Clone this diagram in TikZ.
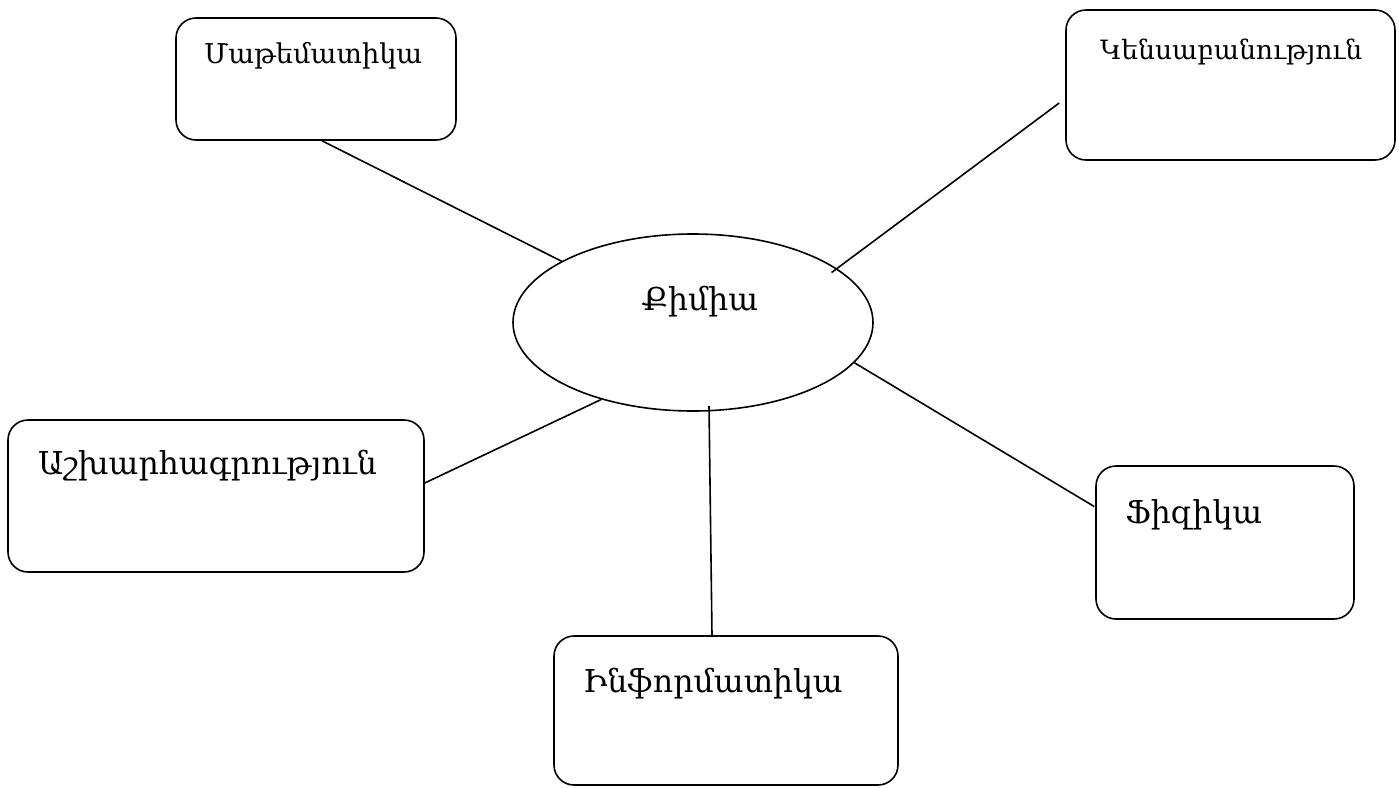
\documentclass[tikz,border=0pt]{standalone}
\usepackage{fontspec}
\setmainfont{DejaVu Serif}
\usetikzlibrary{positioning,shapes.geometric}

\begin{document}
\begin{tikzpicture}[%
    x=1pt, y=-1pt,
    line width=1.6pt,
    subject/.style={draw, rounded corners=20pt, inner sep=0pt},
    bigtext/.style={font=\fontsize{31.5}{36}\selectfont, inner sep=0pt, anchor=base west},
    midtext/.style={font=\fontsize{27.3}{32}\selectfont, inner sep=0pt, anchor=base west},
    smalltext/.style={font=\fontsize{26.6}{30}\selectfont, inner sep=0pt, anchor=base west}
  ]
    \useasboundingbox (0,0) rectangle (1399,787);

    % centre
    \node[draw, ellipse, minimum width=360pt, minimum height=177pt, inner sep=0pt] (chem) at (693,322.5) {};
    \node[bigtext, anchor=base] (chemtxt) at ([shift={(7,-12.5)}]chem.center) {Քիմիա};

    % subjects
    \node[subject, minimum width=280pt, minimum height=122pt] (math) at (316,79) {};
    \node[subject, minimum width=329pt, minimum height=150pt] (bio) at (1230.5,85) {};
    \node[subject, minimum width=416pt, minimum height=152pt] (geo) at (216,496) {};
    \node[subject, minimum width=258pt, minimum height=153pt] (phys) at (1225,542.5) {};
    \node[subject, minimum width=344pt, minimum height=149pt] (inf) at (726,710.5) {};

    \node[midtext] (mathtxt) at ([shift={(28,46)}]math.north west) {Մաթեմատիկա};
    \node[smalltext] (biotxt) at ([shift={(34,50)}]bio.north west) {Կենսաբանություն};
    \node[bigtext] (geotxt) at ([shift={(30,55)}]geo.north west) {Աշխարհագրություն};
    \node[bigtext] (phystxt) at ([shift={(29,58)}]phys.north west) {Ֆիզիկա};
    \node[bigtext] (inftxt) at ([shift={(29,57)}]inf.north west) {Ինֆորմատիկա};

    % lines
    \draw ([xshift=6pt]math.south) -- (chem.155);
    \draw ([shift={(-6,18)}]bio.west) -- ([shift={(-7,3)}]chem.20);
    \draw ([shift={(0,-13)}]geo.east) -- (chem.220);
    \draw ([xshift=-14pt]inf.north) -- ([shift={(16,-6)}]chem.south);
    \draw ([shift={(-1,-36)}]phys.west) -- (chem.-14);
\end{tikzpicture}
\end{document}
